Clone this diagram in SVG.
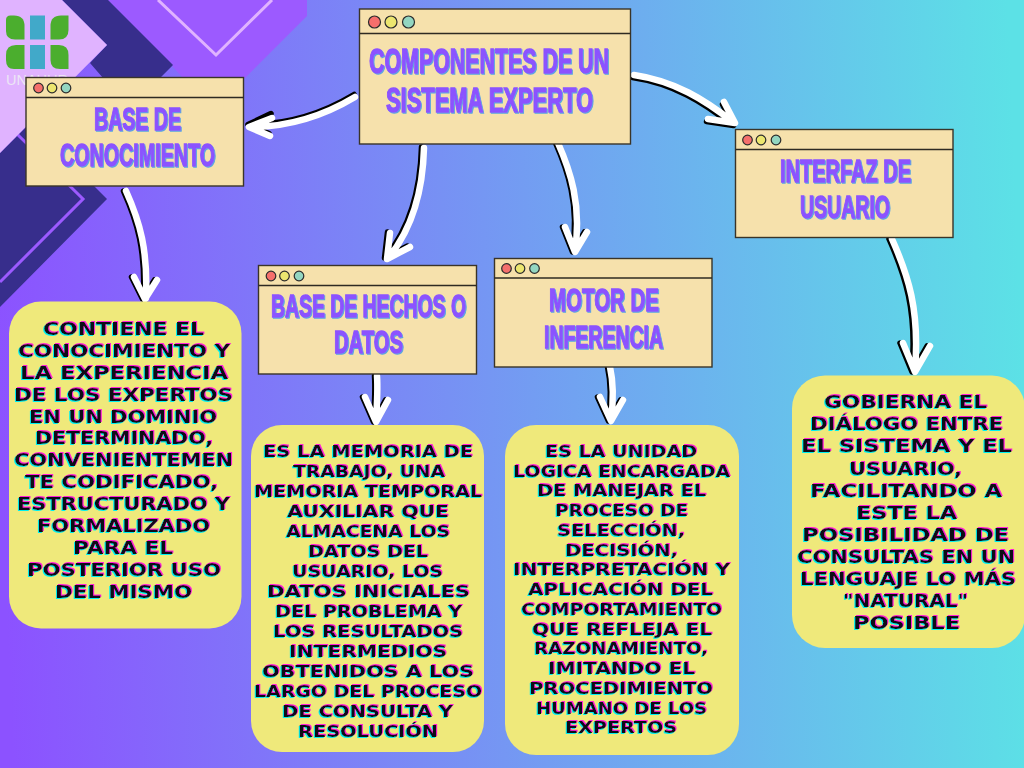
<svg xmlns="http://www.w3.org/2000/svg" width="1024" height="768" viewBox="0 0 1024 768">
<style>
.box{fill:#f6e1ac;stroke:#3a3428;stroke-width:1.4}
.bar{stroke:#2e2a22;stroke-width:1.4}
.dot{stroke:#2b2b2b;stroke-width:1.2}
.r{fill:#f56f6c}.y{fill:#ece66f}.t{fill:#93d6c1}
.title{font-family:"Liberation Sans",Arial,sans-serif;font-weight:700;fill:#8c52ff;stroke:#8c52ff;stroke-width:1.3;filter:url(#tshadow)}
.card{fill:#efe97b}
.body{font-family:"DejaVu Sans","Liberation Sans",sans-serif;font-weight:700;fill:#0a0a14;filter:url(#glitch)}
.b1{font-size:17.5px}.b2{font-size:16.2px}
.w{fill:none;stroke:#fff;stroke-width:6.5;stroke-linecap:round;stroke-linejoin:round}
.k{fill:none;stroke:#000;stroke-width:5.5;stroke-linecap:round;stroke-linejoin:round}
.leaf{fill:#4bae2e}.cross{fill:#41a9c9}
</style>
<defs>
<linearGradient id="bg" gradientUnits="userSpaceOnUse" x1="0" y1="440" x2="1024" y2="400">
<stop offset="0" stop-color="#8c52ff"/><stop offset="1" stop-color="#5ce1e6"/>
</linearGradient>
<filter id="tshadow" x="-5%" y="-10%" width="110%" height="125%">
<feOffset in="SourceAlpha" dx="1.2" dy="1.2" result="o"/>
<feFlood flood-color="#5aa5e0"/><feComposite in2="o" operator="in" result="s"/>
<feMerge><feMergeNode in="s"/><feMergeNode in="SourceGraphic"/></feMerge>
</filter>
<filter id="glitch" x="-5%" y="-15%" width="110%" height="130%">
<feOffset in="SourceAlpha" dx="-1" dy="1" result="a"/>
<feFlood flood-color="#00f0f0"/><feComposite in2="a" operator="in" result="c"/>
<feOffset in="SourceAlpha" dx="1" dy="-1" result="b"/>
<feFlood flood-color="#ff20d8"/><feComposite in2="b" operator="in" result="m"/>
<feMerge><feMergeNode in="c"/><feMergeNode in="m"/><feMergeNode in="SourceGraphic"/></feMerge>
</filter>
</defs>

<rect id="background" width="1024" height="768" fill="url(#bg)"/>
<g id="decor">
<polygon points="108,0 307,0 307,16 245,78 183,78 173,67" fill="#9c5aff"/>
<polyline points="158,0 216,55 272,0" fill="none" stroke="#e0b3ff" stroke-width="3"/>
<polygon points="62,0 108,0 173,65 160,78 103,78 90,63 107,45" fill="#372e8c"/>
<polygon points="0,153 26,127 40,127 88,180 107,199 0,307" fill="#372e8c"/>
<polyline points="17,134 83,199 0,282" fill="none" stroke="#9c5aff" stroke-width="3"/>
<polygon points="0,0 62,0 107,45 0,153" fill="#e0b3ff"/>
</g>

<g id="logo">
<path class="leaf" d="M6,20 Q6,15.5 10.5,15.5 H14 Q24.5,15.5 24.5,26 V39.5 H15 Q6,39.5 6,31Z"/>
<path class="leaf" d="M68.5,15.5 V30 Q68.5,39.5 59,39.5 H50.5 V26 Q50.5,15.5 61,15.5Z"/>
<path class="leaf" d="M24.5,45 V69 H14 Q6,69 6,60 V55 Q6,45 16,45Z"/>
<path class="leaf" d="M50.5,45 H59 Q68.5,45 68.5,55 V69 H60 Q50.5,69 50.5,60Z"/>
<rect class="cross" x="30" y="15.5" width="15" height="24"/>
<rect class="cross" x="30" y="45" width="15" height="24"/>
<text x="6" y="85" font-family="'Liberation Sans',Arial,sans-serif" font-size="14.5" fill="#ece6f5" textLength="62">UNAHUR</text>
</g>

<g id="connectors">
<g id="c1"><path class="k" transform="translate(-1,-2.5)" d="M355,97 C325,115 290,127 250,127 M272,116 L249,127 L270,136"/><path class="w" d="M355,97 C325,115 290,127 250,127 M272,118 L249,127 L270,136"/></g>
<g id="c2"><path class="k" transform="translate(-2.5,0)" d="M126,191 C140,222 148,250 146,298 M134,277 L145,299 L157,280"/><path class="w" d="M126,191 C140,222 148,250 146,298 M134,277 L145,299 L157,280"/></g>
<g id="c3"><path class="k" transform="translate(-2.5,-1)" d="M424,148 C423,185 415,225 389,257 M390,233 L387,259 L410,247"/><path class="w" d="M424,148 C423,185 415,225 389,257 M390,233 L387,259 L410,247"/></g>
<g id="c4"><path class="k" transform="translate(-2.5,0)" d="M558,143 C570,170 582,205 575,250 M565,227 L575,252 L587,232"/><path class="w" d="M558,143 C570,170 582,205 575,250 M565,227 L575,252 L587,232"/></g>
<g id="c5"><path class="k" transform="translate(-2.5,0)" d="M377,376 C378,390 377,405 376,420 M365,397 L376,422 L388,400"/><path class="w" d="M377,376 C378,390 377,405 376,420 M365,397 L376,422 L388,400"/></g>
<g id="c6"><path class="k" transform="translate(-2.5,0)" d="M610,367 C614,385 613,405 611,420 M600,397 L611,421 L623,400"/><path class="w" d="M610,367 C614,385 613,405 611,420 M600,397 L611,421 L623,400"/></g>
<g id="c7"><path class="k" transform="translate(-1.5,2.5)" d="M634,75 C675,81 705,100 733,122 M724,102 L735,123 L708,119"/><path class="w" d="M634,75 C675,81 705,100 733,122 M724,102 L735,123 L708,119"/></g>
<g id="c8"><path class="k" transform="translate(-3,0)" d="M892,239 C908,275 920,310 915,370 M903,343 L915,372 L930,346"/><path class="w" d="M892,239 C908,275 920,310 915,370 M903,343 L915,372 L930,346"/></g>
</g>

<g id="node-main">
<rect class="box" x="359.5" y="9" width="271" height="135"/><line class="bar" x1="359.5" y1="33.5" x2="630.5" y2="33.5"/>
<circle class="dot r" cx="374.5" cy="22" r="6"/><circle class="dot y" cx="391" cy="22" r="6"/><circle class="dot t" cx="408.5" cy="22" r="6"/>
<text class="title" font-size="34.5" x="369" y="72.5" textLength="240" lengthAdjust="spacingAndGlyphs">COMPONENTES DE UN</text>
<text class="title" font-size="34.5" x="386" y="111.5" textLength="207" lengthAdjust="spacingAndGlyphs">SISTEMA EXPERTO</text>
</g>
<g id="node-conocimiento">
<rect class="box" x="26" y="77.5" width="217.5" height="108.5"/><line class="bar" x1="26" y1="97.5" x2="243.5" y2="97.5"/>
<circle class="dot r" cx="38.5" cy="88" r="4.8"/><circle class="dot y" cx="52" cy="88" r="4.8"/><circle class="dot t" cx="66" cy="88" r="4.8"/>
<text class="title" font-size="32" x="94" y="130" textLength="87" lengthAdjust="spacingAndGlyphs">BASE DE</text>
<text class="title" font-size="32" x="60" y="166" textLength="155" lengthAdjust="spacingAndGlyphs">CONOCIMIENTO</text>
</g>
<g id="node-hechos">
<rect class="box" x="258.5" y="265.5" width="218" height="108.5"/><line class="bar" x1="258.5" y1="285.5" x2="476.5" y2="285.5"/>
<circle class="dot r" cx="271" cy="276" r="4.8"/><circle class="dot y" cx="284.5" cy="276" r="4.8"/><circle class="dot t" cx="299" cy="276" r="4.8"/>
<text class="title" font-size="32" x="271" y="317" textLength="195" lengthAdjust="spacingAndGlyphs">BASE DE HECHOS O</text>
<text class="title" font-size="32" x="334" y="353" textLength="69" lengthAdjust="spacingAndGlyphs">DATOS</text>
</g>
<g id="node-motor">
<rect class="box" x="494.5" y="258.5" width="217.5" height="108.5"/><line class="bar" x1="494.5" y1="278" x2="712" y2="278"/>
<circle class="dot r" cx="506.5" cy="268.5" r="4.8"/><circle class="dot y" cx="520" cy="268.5" r="4.8"/><circle class="dot t" cx="534.5" cy="268.5" r="4.8"/>
<text class="title" font-size="32" x="549" y="310.5" textLength="110" lengthAdjust="spacingAndGlyphs">MOTOR DE</text>
<text class="title" font-size="32" x="544" y="347.5" textLength="119" lengthAdjust="spacingAndGlyphs">INFERENCIA</text>
</g>
<g id="node-interfaz">
<rect class="box" x="735.5" y="129.5" width="217.5" height="108"/><line class="bar" x1="735.5" y1="149.5" x2="953" y2="149.5"/>
<circle class="dot r" cx="747.5" cy="140" r="4.8"/><circle class="dot y" cx="761" cy="140" r="4.8"/><circle class="dot t" cx="776" cy="140" r="4.8"/>
<text class="title" font-size="32" x="780" y="182" textLength="131" lengthAdjust="spacingAndGlyphs">INTERFAZ DE</text>
<text class="title" font-size="32" x="800" y="218" textLength="90" lengthAdjust="spacingAndGlyphs">USUARIO</text>
</g>

<g id="card-conocimiento">
<rect class="card" x="9" y="301.5" width="232.5" height="327" rx="32"/>
<g class="body b1">
<text x="43" y="335" textLength="161" lengthAdjust="spacingAndGlyphs">CONTIENE EL</text>
<text x="18" y="357" textLength="212" lengthAdjust="spacingAndGlyphs">CONOCIMIENTO Y</text>
<text x="20" y="379" textLength="208" lengthAdjust="spacingAndGlyphs">LA EXPERIENCIA</text>
<text x="14" y="401" textLength="219" lengthAdjust="spacingAndGlyphs">DE LOS EXPERTOS</text>
<text x="29" y="423" textLength="188" lengthAdjust="spacingAndGlyphs">EN UN DOMINIO</text>
<text x="35" y="444" textLength="178" lengthAdjust="spacingAndGlyphs">DETERMINADO,</text>
<text x="14" y="466" textLength="219" lengthAdjust="spacingAndGlyphs">CONVENIENTEMEN</text>
<text x="25" y="488" textLength="193" lengthAdjust="spacingAndGlyphs">TE CODIFICADO,</text>
<text x="17" y="510" textLength="213" lengthAdjust="spacingAndGlyphs">ESTRUCTURADO Y</text>
<text x="37" y="532" textLength="173" lengthAdjust="spacingAndGlyphs">FORMALIZADO</text>
<text x="73" y="554" textLength="100" lengthAdjust="spacingAndGlyphs">PARA EL</text>
<text x="27" y="576" textLength="194" lengthAdjust="spacingAndGlyphs">POSTERIOR USO</text>
<text x="55" y="598" textLength="137" lengthAdjust="spacingAndGlyphs">DEL MISMO</text>
</g>
</g>

<g id="card-hechos">
<rect class="card" x="251" y="425" width="233" height="327" rx="31"/>
<g class="body b2">
<text x="263" y="457" textLength="210" lengthAdjust="spacingAndGlyphs">ES LA MEMORIA DE</text>
<text x="293" y="477" textLength="152" lengthAdjust="spacingAndGlyphs">TRABAJO, UNA</text>
<text x="254" y="497" textLength="228" lengthAdjust="spacingAndGlyphs">MEMORIA TEMPORAL</text>
<text x="287" y="517" textLength="162" lengthAdjust="spacingAndGlyphs">AUXILIAR QUE</text>
<text x="286" y="537" textLength="164" lengthAdjust="spacingAndGlyphs">ALMACENA LOS</text>
<text x="308" y="557" textLength="120" lengthAdjust="spacingAndGlyphs">DATOS DEL</text>
<text x="292" y="577" textLength="151" lengthAdjust="spacingAndGlyphs">USUARIO, LOS</text>
<text x="267" y="597" textLength="203" lengthAdjust="spacingAndGlyphs">DATOS INICIALES</text>
<text x="275" y="617" textLength="187" lengthAdjust="spacingAndGlyphs">DEL PROBLEMA Y</text>
<text x="273" y="637" textLength="190" lengthAdjust="spacingAndGlyphs">LOS RESULTADOS</text>
<text x="289" y="657" textLength="158" lengthAdjust="spacingAndGlyphs">INTERMEDIOS</text>
<text x="262" y="677" textLength="212" lengthAdjust="spacingAndGlyphs">OBTENIDOS A LOS</text>
<text x="254" y="697" textLength="228" lengthAdjust="spacingAndGlyphs">LARGO DEL PROCESO</text>
<text x="282" y="717" textLength="171" lengthAdjust="spacingAndGlyphs">DE CONSULTA Y</text>
<text x="298" y="737" textLength="140" lengthAdjust="spacingAndGlyphs">RESOLUCIÓN</text>
</g>
</g>

<g id="card-motor">
<rect class="card" x="505" y="425" width="234" height="330" rx="31"/>
<g class="body b2">
<text x="545" y="457" textLength="152" lengthAdjust="spacingAndGlyphs">ES LA UNIDAD</text>
<text x="513" y="476.5" textLength="217" lengthAdjust="spacingAndGlyphs">LOGICA ENCARGADA</text>
<text x="537" y="496" textLength="169" lengthAdjust="spacingAndGlyphs">DE MANEJAR EL</text>
<text x="555" y="516" textLength="133" lengthAdjust="spacingAndGlyphs">PROCESO DE</text>
<text x="557" y="536" textLength="128" lengthAdjust="spacingAndGlyphs">SELECCIÓN,</text>
<text x="565" y="555.5" textLength="113" lengthAdjust="spacingAndGlyphs">DECISIÓN,</text>
<text x="513" y="575" textLength="217" lengthAdjust="spacingAndGlyphs">INTERPRETACIÓN Y</text>
<text x="528" y="595" textLength="185" lengthAdjust="spacingAndGlyphs">APLICACIÓN DEL</text>
<text x="521" y="615" textLength="201" lengthAdjust="spacingAndGlyphs">COMPORTAMIENTO</text>
<text x="532" y="634.5" textLength="180" lengthAdjust="spacingAndGlyphs">QUE REFLEJA EL</text>
<text x="534" y="654" textLength="174" lengthAdjust="spacingAndGlyphs">RAZONAMIENTO,</text>
<text x="548" y="674" textLength="147" lengthAdjust="spacingAndGlyphs">IMITANDO EL</text>
<text x="529" y="694" textLength="184" lengthAdjust="spacingAndGlyphs">PROCEDIMIENTO</text>
<text x="536" y="713.5" textLength="171" lengthAdjust="spacingAndGlyphs">HUMANO DE LOS</text>
<text x="565" y="733" textLength="112" lengthAdjust="spacingAndGlyphs">EXPERTOS</text>
</g>
</g>

<g id="card-interfaz">
<rect class="card" x="792" y="375.5" width="233" height="272.5" rx="33"/>
<g class="body b1">
<text x="824" y="408" textLength="163" lengthAdjust="spacingAndGlyphs">GOBIERNA EL</text>
<text x="810" y="430" textLength="193" lengthAdjust="spacingAndGlyphs">DIÁLOGO ENTRE</text>
<text x="801" y="452" textLength="211" lengthAdjust="spacingAndGlyphs">EL SISTEMA Y EL</text>
<text x="849" y="474.5" textLength="113" lengthAdjust="spacingAndGlyphs">USUARIO,</text>
<text x="810" y="496.5" textLength="192" lengthAdjust="spacingAndGlyphs">FACILITANDO A</text>
<text x="856" y="518.5" textLength="101" lengthAdjust="spacingAndGlyphs">ESTE LA</text>
<text x="802" y="541" textLength="207" lengthAdjust="spacingAndGlyphs">POSIBILIDAD DE</text>
<text x="797" y="563" textLength="218" lengthAdjust="spacingAndGlyphs">CONSULTAS EN UN</text>
<text x="800" y="585" textLength="216" lengthAdjust="spacingAndGlyphs">LENGUAJE LO MÁS</text>
<text x="843" y="607" textLength="125" lengthAdjust="spacingAndGlyphs">"NATURAL"</text>
<text x="853" y="629" textLength="107" lengthAdjust="spacingAndGlyphs">POSIBLE</text>
</g>
</g>
</svg>
